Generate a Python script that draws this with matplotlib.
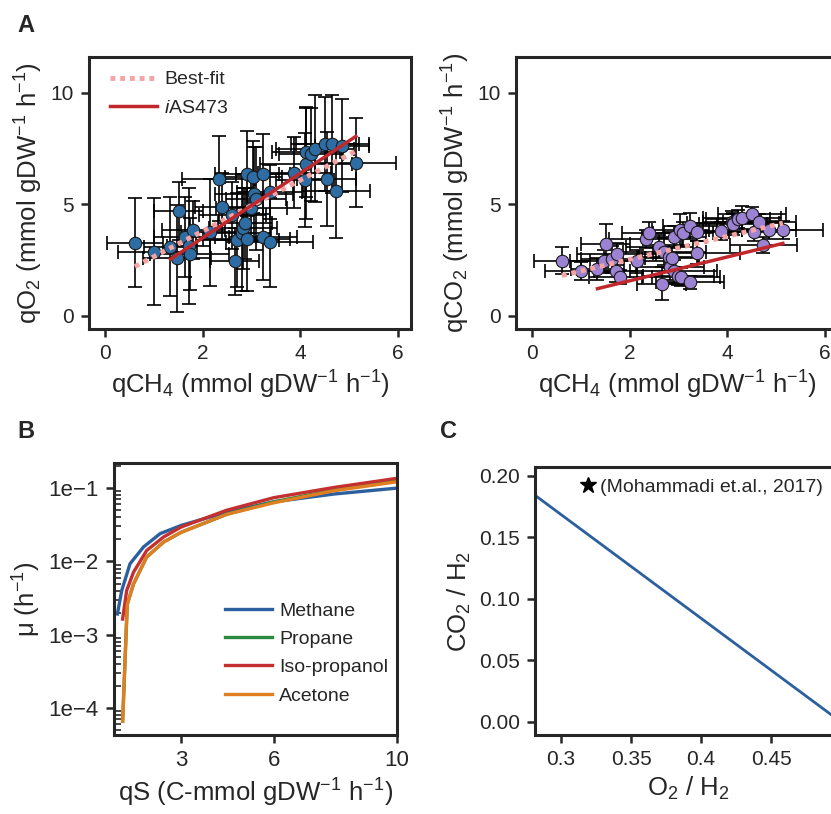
import math
import matplotlib
matplotlib.use('Agg')
import matplotlib.pyplot as plt
from matplotlib.ticker import FuncFormatter, LogLocator
from matplotlib.lines import Line2D

plt.rcParams['font.family'] = ['Liberation Sans', 'DejaVu Sans']
plt.rcParams['mathtext.fontset'] = 'custom'
plt.rcParams['mathtext.rm'] = 'Liberation Sans'
plt.rcParams['mathtext.it'] = 'Liberation Sans:italic'
plt.rcParams['text.color'] = '#262626'
plt.rcParams['axes.labelcolor'] = '#262626'
plt.rcParams['xtick.color'] = '#262626'
plt.rcParams['ytick.color'] = '#262626'

# ---- panel A data (qCH4 shared by both plots) ----
qch4 = [0.61, 1.00, 1.34, 1.48, 1.51, 1.63, 1.71, 1.73, 1.81, 2.15,
        2.33, 2.39, 2.61, 2.66, 2.71, 2.80, 2.83, 2.87, 2.90, 2.91,
        3.00, 3.04, 3.06, 3.09, 3.23, 3.24, 3.37, 3.37, 3.88, 4.10,
        4.12, 4.12, 4.22, 4.30, 4.51, 4.54, 4.66, 4.74, 4.85, 5.14]
qch4_err = [0.58, 0.73, 0.55, 0.70, 0.50, 0.62, 0.45, 0.80, 0.65, 0.60,
            0.75, 0.55, 0.68, 0.50, 0.85, 0.60, 0.70, 0.55, 0.90, 0.65,
            0.72, 0.58, 0.80, 0.62, 0.70, 0.55, 0.66, 0.90, 0.75, 0.60,
            0.95, 0.70, 0.65, 0.80, 0.70, 0.60, 0.75, 0.68, 0.55, 0.83]
qo2 = [3.27, 2.87, 3.10, 2.57, 4.70, 3.51, 3.13, 2.77, 3.84, 3.74,
       6.15, 4.88, 4.51, 2.43, 3.39, 3.69, 3.91, 4.14, 3.42, 6.37,
       4.81, 6.22, 5.45, 5.25, 3.51, 6.34, 5.55, 3.29, 6.41, 6.07,
       6.82, 7.34, 7.23, 7.49, 7.71, 6.12, 7.68, 5.60, 7.63, 6.86]
qo2_err = [2.0, 2.4, 2.2, 2.4, 1.3, 1.8, 2.6, 1.6, 1.3, 2.4,
           1.9, 1.5, 1.5, 1.5, 2.1, 2.6, 1.8, 1.6, 2.3, 1.9,
           1.4, 1.6, 2.1, 2.3, 1.9, 1.8, 1.2, 2.0, 1.6, 2.1,
           2.5, 2.0, 2.1, 2.4, 2.1, 2.1, 2.2, 2.1, 2.1, 2.0]
qco2 = [2.46, 2.01, 2.08, 2.43, 3.21, 2.53, 2.02, 2.77, 1.73, 2.43,
        3.42, 3.69, 3.10, 1.43, 2.87, 2.65, 2.20, 2.57, 1.98, 3.54,
        1.76, 3.84, 1.73, 3.69, 1.49, 4.02, 3.76, 2.83, 3.79, 4.21,
        4.17, 4.10, 4.33, 4.40, 4.55, 3.76, 4.18, 3.17, 3.84, 3.84]
qco2_err = [0.6, 0.4, 0.5, 0.5, 0.9, 0.6, 0.5, 0.5, 0.3, 0.5,
            0.4, 0.5, 0.5, 0.75, 0.6, 0.5, 0.6, 0.5, 0.5, 0.5,
            0.4, 0.7, 0.4, 0.5, 0.3, 0.6, 0.4, 0.5, 0.4, 0.5,
            0.4, 0.5, 0.4, 0.5, 0.3, 0.4, 0.4, 0.35, 0.4, 0.4]

fit_x = [0.61, 5.14]
fit_o2 = [2.20, 7.38]
fit_co2 = [1.80, 4.15]
model_x = [1.34, 5.14]
model_o2 = [2.53, 8.04]
model_co2 = [1.21, 3.24]

# ---- panel B data ----
qs_methane = [0.93, 1.07, 1.34, 1.78, 2.32, 3.0, 4.48, 6.0, 7.95, 10.0]
mu_methane = [1.92e-3, 4.0e-3, 9.3e-3, 1.58e-2, 2.4e-2, 3.1e-2, 4.7e-2, 6.5e-2, 8.3e-2, 0.100]
qs_propane = [1.10, 1.25, 1.45, 1.88, 2.43, 3.0, 4.48, 6.0, 7.95, 10.0]
mu_propane = [6.6e-5, 2.6e-3, 4.9e-3, 1.15e-2, 1.84e-2, 2.5e-2, 4.4e-2, 6.5e-2, 9.4e-2, 0.125]
qs_isoprop = [1.10, 1.23, 1.45, 1.88, 2.43, 3.0, 4.48, 6.0, 7.95, 10.0]
mu_isoprop = [1.64e-3, 4.0e-3, 7.1e-3, 1.41e-2, 2.16e-2, 2.95e-2, 5.0e-2, 7.4e-2, 0.102, 0.136]
qs_acetone = [1.10, 1.25, 1.45, 1.88, 2.43, 3.0, 4.48, 6.0, 7.95, 10.0]
mu_acetone = [6.6e-5, 2.6e-3, 4.9e-3, 1.15e-2, 1.84e-2, 2.5e-2, 4.4e-2, 6.3e-2, 9.2e-2, 0.122]

# ---- panel C data ----
o2_h2 = [0.28, 0.50]
co2_h2 = [0.1855, 0.0]

blue = '#2e6da4'
purple = '#9b82d2'
pink = '#f5a3a3'
dred = '#c0282d'
W, H = 831, 814
fig = plt.figure(figsize=(W / 100, H / 100), dpi=100)


def box(l, t, r, b):
    return [l / W, 1 - b / H, (r - l) / W, (b - t) / H]


def style(ax, size=15):
    for s in ax.spines.values():
        s.set_linewidth(2.2)
        s.set_color('#262626')
    ax.tick_params(which='major', direction='out', length=6, width=1.8,
                   labelsize=size, pad=5)


def scatter_panel(ax, y, yerr, fy, my, col, ylab):
    ax.errorbar(qch4, y, xerr=qch4_err, yerr=yerr, fmt='none', ecolor='black',
                elinewidth=1.2, capsize=5, capthick=1.2, zorder=2)
    ax.plot(qch4, y, 'o', ms=9, mfc=col, mec='#1a1a1a', mew=0.8, zorder=3)
    ax.plot(fit_x, fy, color=pink, lw=3.5, ls=(0, (1, 1)), zorder=4, label='Best-fit')
    ax.plot(model_x, my, color=dred, lw=2.5, zorder=5, label='$i$AS473')
    ax.set_xlim(-0.33, 6.27)
    ax.set_ylim(-0.6, 11.6)
    ax.set_xticks([0, 2, 4, 6])
    ax.set_yticks([0, 5, 10])
    ax.set_xlabel('qCH$_4$ (mmol gDW$^{-1}$ h$^{-1}$)', fontsize=18.5)
    ax.set_ylabel(ylab, fontsize=18.5)
    style(ax)


ax1 = fig.add_axes(box(89, 57, 411, 329))
scatter_panel(ax1, qo2, qo2_err, fit_o2, model_o2, blue,
              'qO$_2$ (mmol gDW$^{-1}$ h$^{-1}$)')
ax1.legend(loc='upper left', frameon=False, fontsize=14, handlelength=2.4,
           handletextpad=0.4, labelspacing=0.55, borderpad=0, borderaxespad=0,
           bbox_to_anchor=(0.065, 0.949))

ax2 = fig.add_axes(box(516, 57, 838, 329))
scatter_panel(ax2, qco2, qco2_err, fit_co2, model_co2, purple,
              'qCO$_2$ (mmol gDW$^{-1}$ h$^{-1}$)')

# panel B
ax3 = fig.add_axes(box(114, 463, 397, 735))
ax3.plot(qs_methane, mu_methane, color='#2b5f9e', lw=2.4, label='Methane')
ax3.plot(qs_propane, mu_propane, color='#2a8a3e', lw=2.4, label='Propane')
ax3.plot(qs_isoprop, mu_isoprop, color='#c4302f', lw=2.4, label='Iso-propanol')
ax3.plot(qs_acetone, mu_acetone, color='#e07e22', lw=2.4, label='Acetone')
ax3.set_yscale('log')
ax3.set_xlim(0.82, 10)
ax3.set_ylim(4.3e-5, 0.22)
ax3.set_xticks([3, 6, 10])
ax3.set_xticklabels(['3', '6', '10'])
ax3.set_yticks([1e-4, 1e-3, 1e-2, 1e-1])
ax3.yaxis.set_major_formatter(FuncFormatter(
    lambda v, p: '1e\u2212%d' % round(-math.log10(v))))
ax3.yaxis.set_minor_locator(LogLocator(base=10, subs=range(2, 10)))
ax3.yaxis.set_minor_formatter(FuncFormatter(lambda v, p: ''))
style(ax3, 16)
ax3.tick_params(axis='y', which='minor', direction='in', length=5, width=1.2)
ax3.set_xlabel('qS (C-mmol gDW$^{-1}$ h$^{-1}$)', fontsize=18.5)
ax3.set_ylabel('\u03bc (h$^{-1}$)', fontsize=18.5)
ax3.legend(loc='upper left', frameon=False, fontsize=14, handlelength=2.4,
           handletextpad=0.4, labelspacing=0.55, borderpad=0, borderaxespad=0,
           bbox_to_anchor=(0.392, 0.489))

# panel C
ax4 = fig.add_axes(box(535, 467, 841, 735))
ax4.plot(o2_h2, co2_h2, color='#2b5f9e', lw=2)
ax4.set_xlim(0.2814, 0.5)
ax4.set_ylim(-0.0106, 0.2073)
ax4.set_xticks([0.3, 0.35, 0.4, 0.45])
ax4.set_xticklabels(['0.3', '0.35', '0.4', '0.45'])
ax4.set_yticks([0.0, 0.05, 0.10, 0.15, 0.20])
ax4.set_yticklabels(['0.00', '0.05', '0.10', '0.15', '0.20'])
style(ax4)
ax4.set_xlabel('O$_2$ / H$_2$', fontsize=18.5)
ax4.set_ylabel('CO$_2$ / H$_2$', fontsize=18.5)
star = Line2D([], [], ls='none', marker='*', ms=12, color='black')
ax4.legend([star], ['(Mohammadi et.al., 2017)'], loc='upper left', frameon=False,
           fontsize=14, handlelength=0.7, handletextpad=0.3, borderpad=0,
           borderaxespad=0, bbox_to_anchor=(0.150, 0.959))

fig.text(17 / W, 1 - 25 / H, 'A', fontsize=17, fontweight='bold', va='center')
fig.text(17 / W, 1 - 432 / H, 'B', fontsize=17, fontweight='bold', va='center')
fig.text(440 / W, 1 - 432 / H, 'C', fontsize=17, fontweight='bold', va='center')

fig.savefig('out.png', dpi=100)
